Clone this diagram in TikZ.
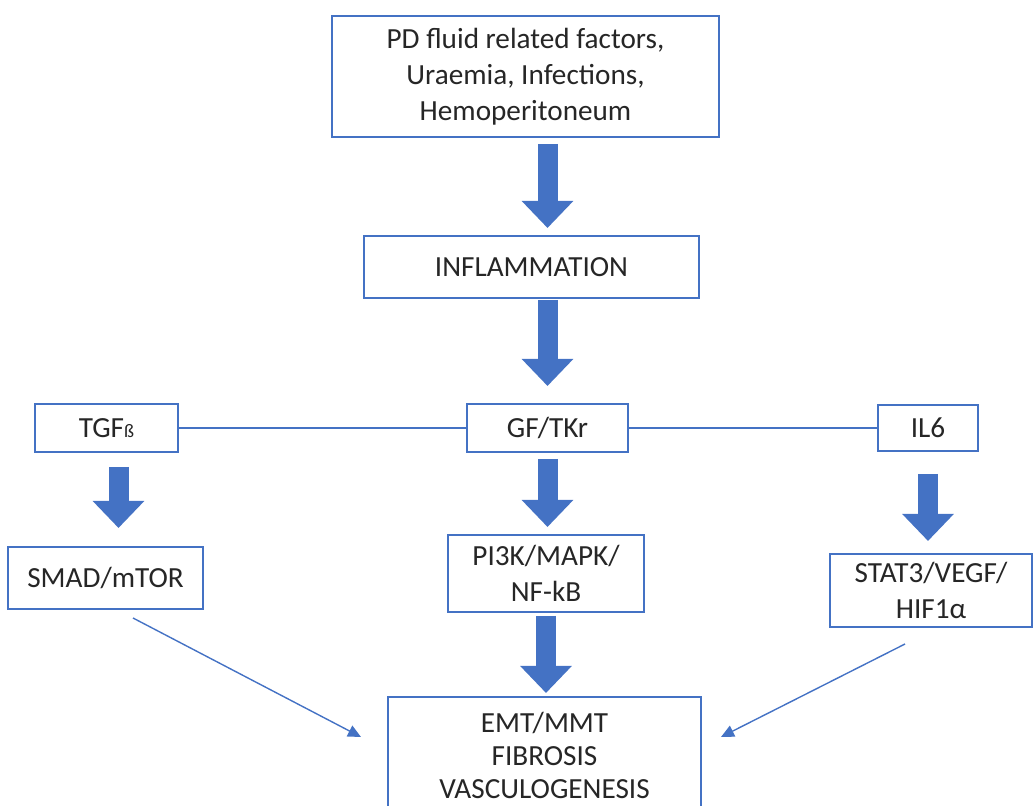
\documentclass[tikz,border=0pt]{standalone}
\usepackage{fontspec}
\setmainfont{Carlito}
\usetikzlibrary{arrows.meta,calc}
\definecolor{oBlue}{HTML}{4472C4}
\definecolor{oText}{HTML}{262626}

\tikzset{
  box/.style={draw=oBlue,line width=1pt,fill=white,text=oText,align=center,inner sep=0pt},
  bigarrow/.style={draw=oBlue,line width=10pt,-{Triangle[width=25pt,length=13.5pt]}},
  thinarrow/.style={draw=oBlue,line width=0.7pt,-{Triangle[width=6pt,length=6.5pt]}},
  link/.style={draw=oBlue,line width=0.8pt},
}

\begin{document}
\begin{tikzpicture}[x=0.5pt,y=-0.5pt,font=\fontsize{14.6}{18}\selectfont]
  \useasboundingbox (0,0) rectangle (1034,806);

  % boxes
  \node[box,minimum width=193.5pt,minimum height=60.5pt] (causes) at (525.5,76.5)
        {PD fluid related factors,\\Uraemia, Infections,\\Hemoperitoneum};
  \node[box,minimum width=167.5pt,minimum height=31pt] (infl) at (531.5,267) {INFLAMMATION};
  \node[box,minimum width=71.5pt,minimum height=24pt] (tgf) at (106.5,428)
        {TGF{\fontsize{9.5}{11}\selectfont ß}};
  \node[box,minimum width=80.5pt,minimum height=24pt] (gf) at (547.5,428) {GF/TKr};
  \node[box,minimum width=50pt,minimum height=23pt] (il6) at (928,428) {IL6};
  \node[box,minimum width=97.5pt,minimum height=31pt] (smad) at (105.5,578) {SMAD/mTOR};
  \node[box,minimum width=98pt,minimum height=38.5pt] (pik) at (546,573.5) {PI3K/MAPK/\\NF-kB};
  \node[box,minimum width=101pt,minimum height=36.5pt] (stat) at (931,590.5) {STAT3/VEGF/\\HIF1α};
  \node[box,minimum width=156.5pt,minimum height=58pt] (emt) at (544.5,755)
        {EMT/MMT\\[-1.5pt]FIBROSIS\\[-1.5pt]VASCULOGENESIS};

  % main flow
  \draw[bigarrow,shorten <=3pt,shorten >=3.5pt] (causes.south -| gf) -- (infl.north -| gf);
  \draw[bigarrow,shorten <=0.5pt,shorten >=8.5pt] (infl.south -| gf) -- (gf.north);

  % three branches
  \draw[link] (tgf) -- (gf);
  \draw[link] (gf) -- (il6);
  \draw[bigarrow,shorten <=7pt,shorten >=9pt] ($(tgf.south)+(12,0)$) -- ($(smad.north)+(13,0)$);
  \draw[bigarrow,shorten <=3pt,shorten >=3.5pt] (gf.south) -- (pik.north -| gf);
  \draw[bigarrow,shorten <=11pt,shorten >=6pt] (il6.south) -- (stat.north -| il6);

  % to outcome
  \draw[bigarrow,shorten <=1.5pt,shorten >=1.5pt] (pik.south) -- (emt.north -| pik);
  \draw[thinarrow] ($(smad.south)+(27.5,8)$) -- ($(emt.west)+(-26,-18)$);
  \draw[thinarrow] ($(stat.south)+(-26,16)$) -- ($(emt.east)+(19,-18)$);
\end{tikzpicture}
\end{document}
